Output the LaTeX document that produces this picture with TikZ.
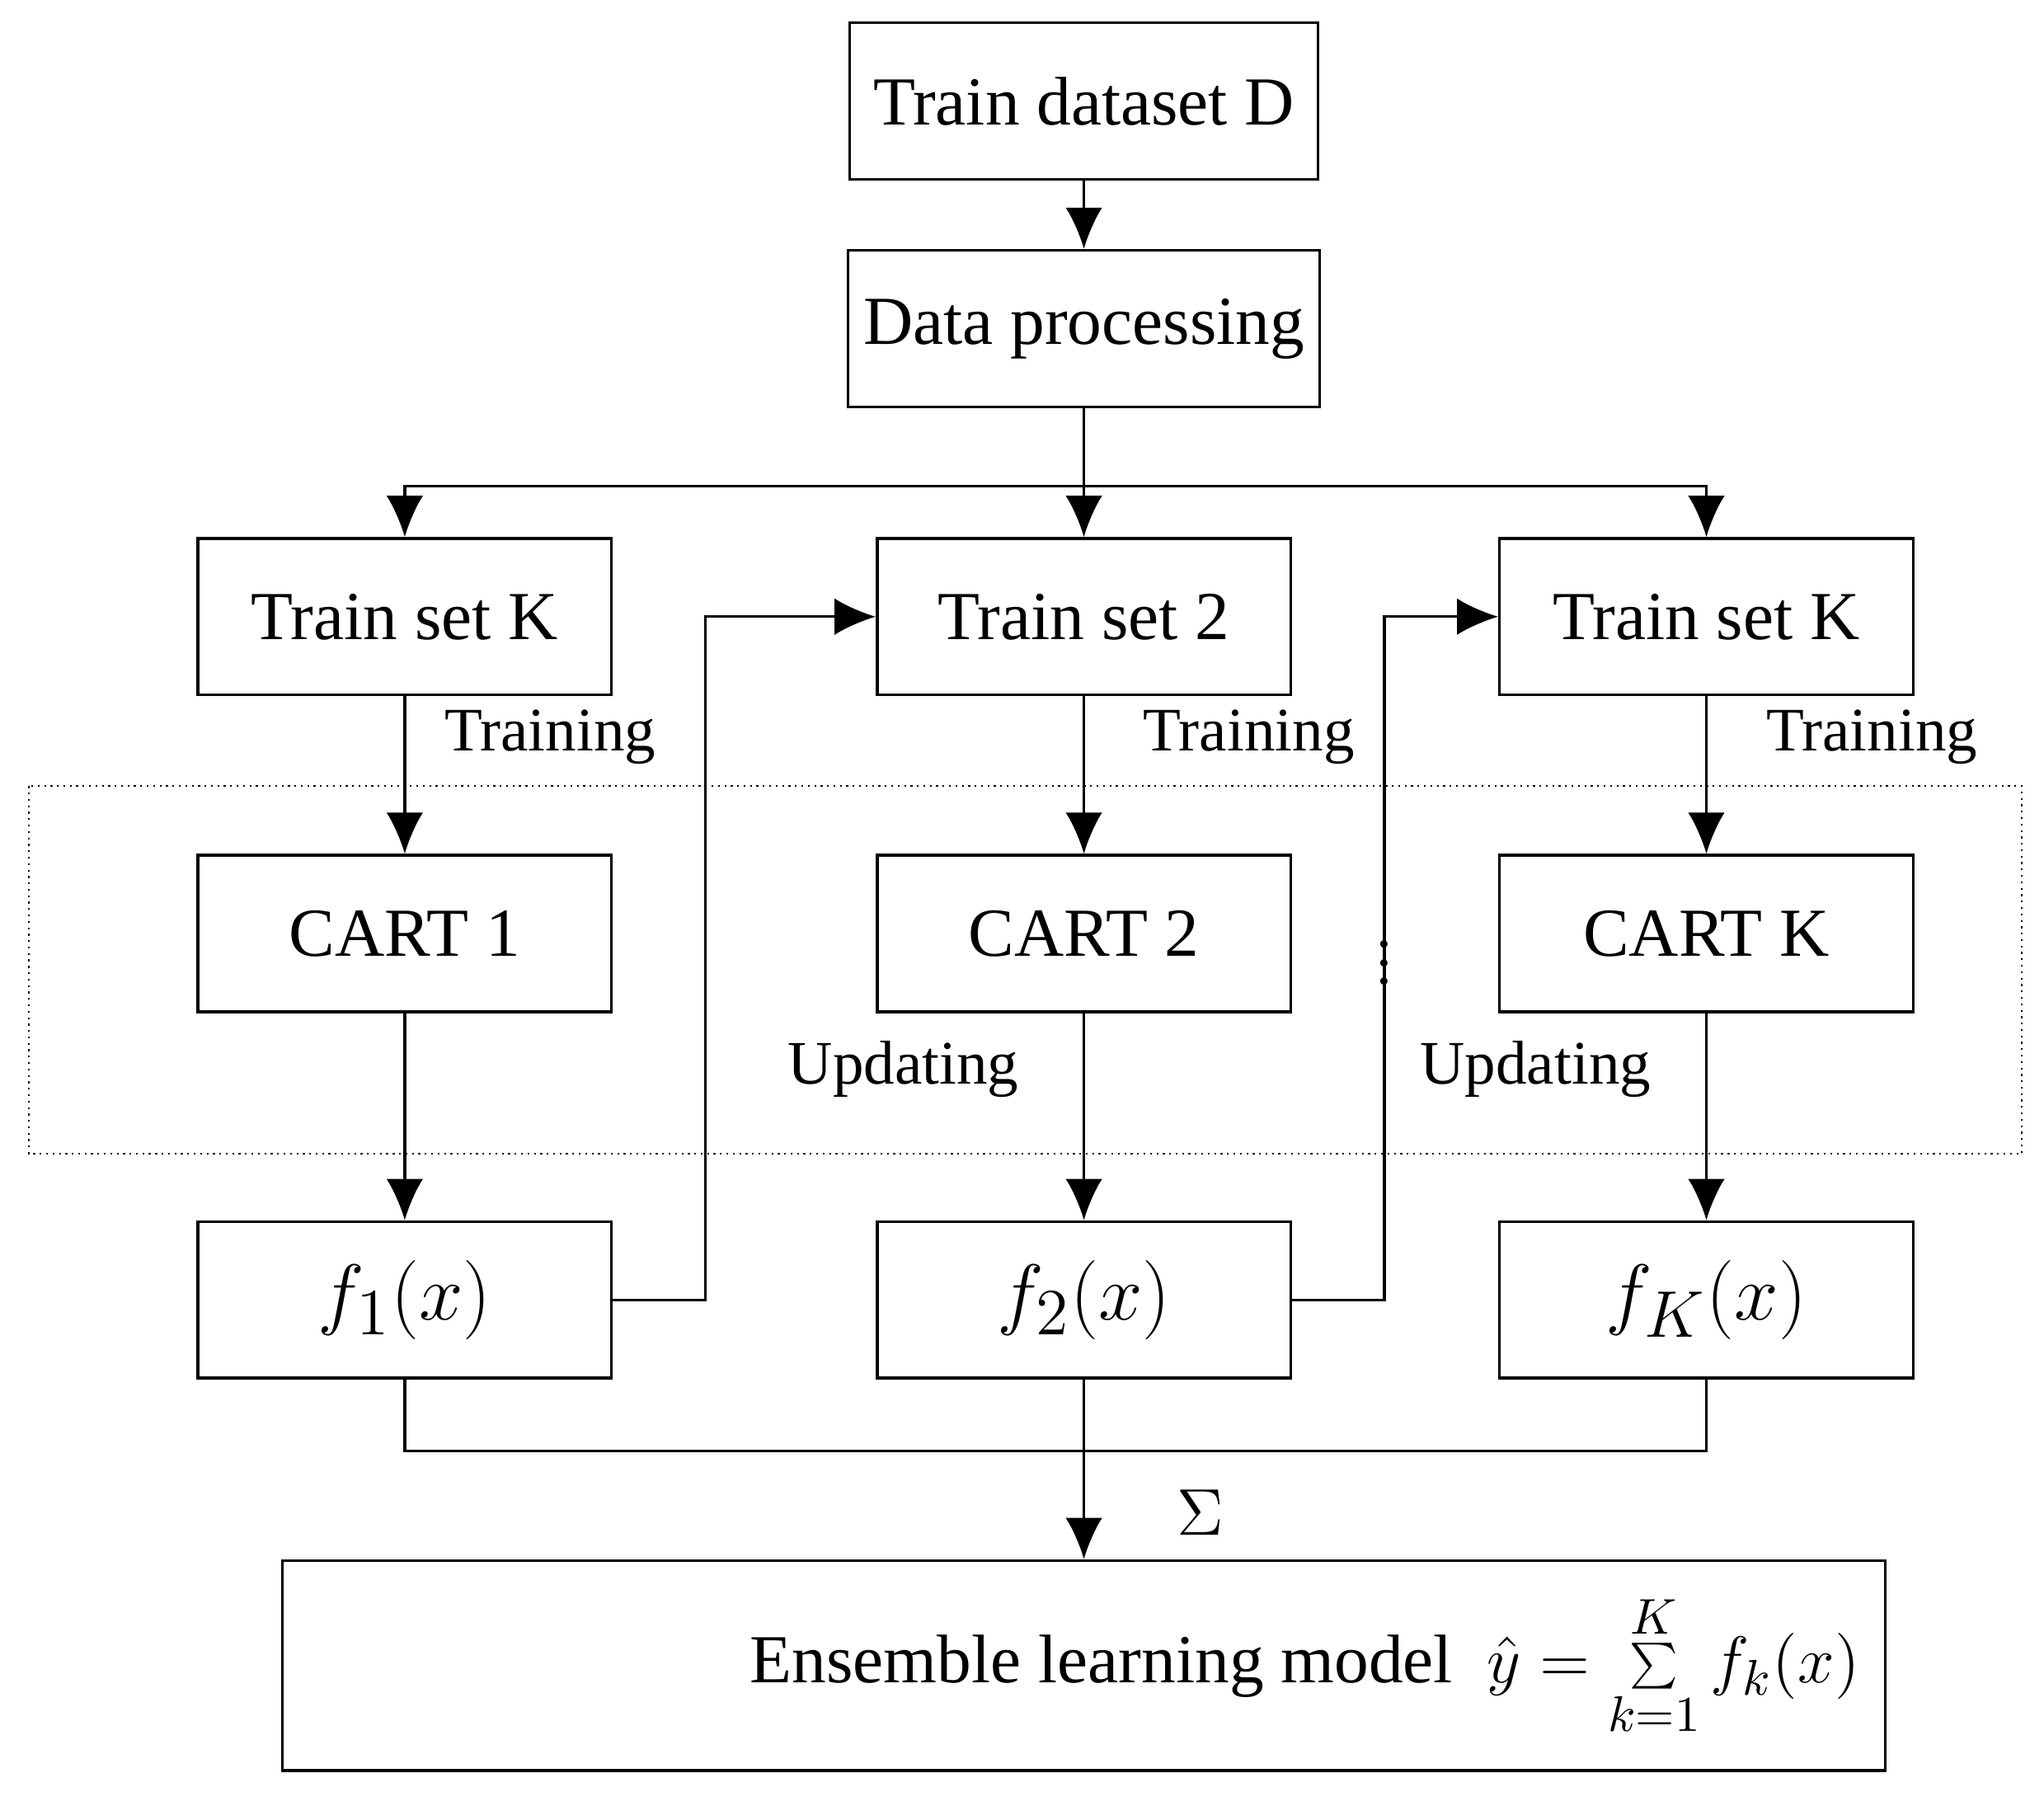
\documentclass[tikz,border=0pt]{standalone}
\usepackage{fontspec}
\setmainfont{Liberation Serif}
\usetikzlibrary{positioning,arrows.meta}
\begin{document}
\begin{tikzpicture}[x=0.01cm,y=-0.01cm,
    box/.style={draw,semithick,minimum width=3.17cm,minimum height=1.2cm,font=\fontsize{15}{18}\selectfont},
    lbl/.style={font=\fontsize{13.5}{16}\selectfont},
    arr/.style={-{Latex[length=9pt,width=8pt]},semithick}]
    \useasboundingbox (0,0) rectangle (1568,1385);

    % Cajas superiores
    \node[box,minimum width=3.59cm] (dataset) at (831.5,77.5) {Train dataset D};
    \node[box,minimum width=3.59cm] (proc) at (831.5,252) {Data processing};

    % Conjuntos de entrenamiento
    \node[box] (setA) at (310.5,473) {Train set K};
    \node[box] (setB) at (831.5,473) {Train set 2};
    \node[box] (setC) at (1309,473) {Train set K};

    % Arboles CART
    \node[box] (cartA) at (310.5,716) {CART 1};
    \node[box] (cartB) at (831.5,716) {CART 2};
    \node[box] (cartC) at (1309,716) {CART K};

    % Funciones
    \node[box,font=\fontsize{19}{22}\selectfont] (fA) at (310.5,997) {$f_1(x)$};
    \node[box,font=\fontsize{19}{22}\selectfont] (fB) at (831.5,997) {$f_2(x)$};
    \node[box,font=\fontsize{19}{22}\selectfont] (fC) at (1309,997) {$f_K(x)$};

    % Modelo final
    \node[box,minimum width=12.29cm,minimum height=1.61cm] (model) at (831.5,1277.5) {};
    \node[font=\fontsize{15}{18}\selectfont,anchor=west] (modeltext) at (563,1277.5)
        {Ensemble learning model\enspace $\hat{y}=\sum\limits_{k=1}^{K} f_k(x)$};

    % Zona de actualizacion
    \draw[densely dotted] (22,603) rectangle (1551,885);

    \coordinate (split) at (831.5,373);
    \coordinate (join) at (831.5,1113);
    \coordinate (upA) at (541,997);
    \coordinate (upB) at (1062,997);

    \draw[arr] (dataset) -- (proc);
    \draw[semithick] (proc) -- (split);
    \draw[arr] (split) -| (setA);
    \draw[arr] (split) -| (setC);
    \draw[arr] (split) -- (setB);

    \node[lbl] (trA) at (422,565) {Training};
    \node[lbl] (trB) at (958,565) {Training};
    \node[lbl] (trC) at (1436,565) {Training};
    \draw[arr] (setA) -- (cartA);
    \draw[arr] (setB) -- (cartB);
    \draw[arr] (setC) -- (cartC);

    \node[lbl] (upTextB) at (693,820) {Updating};
    \node[lbl] (upTextC) at (1178,820) {Updating};
    \draw[arr] (cartA) -- (fA);
    \draw[arr] (cartB) -- (fB);
    \draw[arr] (cartC) -- (fC);

    \draw[arr] (fA.east) -- (upA) |- (setB.west);
    \draw[arr] (fB.east) -- (upB) |- (setC.west);
    \node[lbl] (dots) at (1062,728) {$\vdots$};

    \draw[semithick] (fA) |- (join) -| (fC);
    \draw[semithick] (fB) -- (join);
    \draw[arr] (join) -- (model);
    \node[lbl] (sigma) at (921,1160) {$\Sigma$};
\end{tikzpicture}
\end{document}
